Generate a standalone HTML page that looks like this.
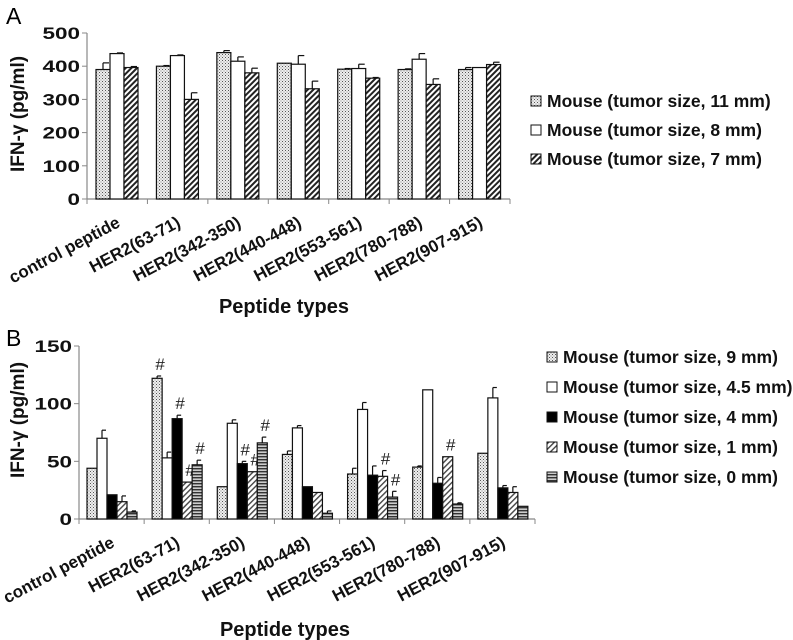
<!DOCTYPE html>
<html><head><meta charset="utf-8"><style>
html,body{margin:0;padding:0;background:#fff;}
svg{display:block;font-family:"Liberation Sans",sans-serif;}
</style></head><body>
<svg id="chart" width="793" height="640" viewBox="0 0 793 640">
<defs>
<pattern id="pDots" width="3" height="3" patternUnits="userSpaceOnUse"><rect width="3" height="3" fill="#eee"/><rect x="0" y="0" width="1" height="1" fill="#555"/><rect x="1.5" y="1.5" width="1" height="1" fill="#888"/></pattern>
<pattern id="pHatch" width="4" height="4" patternUnits="userSpaceOnUse" patternTransform="rotate(45)"><rect width="4" height="4" fill="#fff"/><rect width="2" height="4" fill="#222"/></pattern>
<pattern id="pHatchL" width="4" height="4" patternUnits="userSpaceOnUse" patternTransform="rotate(45)"><rect width="4" height="4" fill="#fff"/><rect width="1.4" height="4" fill="#444"/></pattern>
<pattern id="pHoriz" width="3" height="3" patternUnits="userSpaceOnUse"><rect width="3" height="3" fill="#ccc"/><rect width="3" height="1.4" fill="#333"/></pattern>
</defs>
<text x="6" y="24" font-size="23">A</text>
<text x="6" y="346" font-size="23">B</text>
</svg>
<script>
const categories=["control peptide","HER2(63-71)","HER2(342-350)","HER2(440-448)","HER2(553-561)","HER2(780-788)","HER2(907-915)"];
const seriesA=["Mouse (tumor size, 11 mm)","Mouse (tumor size, 8 mm)","Mouse (tumor size, 7 mm)"];
const valuesA11=[390,400,441,409,391,390,390];
const valuesA8=[438,432,415,406,393,421,396];
const valuesA7=[396,300,380,332,364,345,405];
const errA11=[20,2,6,0,2,2,6];
const errA8=[2,2,13,26,13,17,0];
const errA7=[3,20,14,23,2,17,7];
const ticksA=[0,100,200,300,400,500];
const seriesB=["Mouse (tumor size, 9 mm)","Mouse (tumor size, 4.5 mm)","Mouse (tumor size, 4 mm)","Mouse (tumor size, 1 mm)","Mouse (tumor size, 0 mm)"];
const valuesB9=[44,122,28,56,39,45,57];
const valuesB45=[70,53,83,79,95,112,105];
const valuesB4=[21,87,48,28,38,31,27];
const valuesB1=[15,32,41,23,37,54,23];
const valuesB0=[6,47,66,5,19,13,11];
const errB9=[0,2,0,3,5,1,0];
const errB45=[7,5,3,2,6,0,9];
const errB4=[0,3,2,0,8,5,2];
const errB1=[5,0,0,0,5,0,5];
const errB0=[1,4,5,2,5,1,0];
const hashB9=[0,1,0,0,0,0,0];
const hashB4=[0,1,1,0,0,0,0];
const hashB1=[0,1,1,0,1,1,0];
const hashB0=[0,1,1,0,1,0,0];
const ticksB=[0,50,100,150];

const svg=document.getElementById('chart');
const NS='http://www.w3.org/2000/svg';
function mk(tag,attrs,parent){const e=document.createElementNS(NS,tag);for(const k in attrs)e.setAttribute(k,attrs[k]);(parent||svg).appendChild(e);return e;}

function drawPanel(cfg){
  const g=mk('g',{});
  
  
  const y=v=>cfg.y0-(v/cfg.max)*(cfg.y0-cfg.yTop);
  const gw=(cfg.x1-cfg.x0)/categories.length;
  const xg=i=>cfg.x0+i*gw;
  const ya=mk('line',{x1:cfg.x0,y1:cfg.yTop,x2:cfg.x0,y2:cfg.y0,stroke:'#888','stroke-width':1.2},g);
  
  
  const xa=mk('line',{x1:cfg.x0,y1:cfg.y0,x2:cfg.x1,y2:cfg.y0,stroke:'#888','stroke-width':1.2},g);
  
  
  cfg.ticks.forEach(t=>{
    mk('line',{x1:cfg.x0-5,x2:cfg.x0,y1:y(t),y2:y(t),stroke:'#888'},g);
    const s=String(t);
    const tl=mk('text',{x:cfg.x0-7,y:y(t)+6,'text-anchor':'end','font-size':17,'font-weight':'bold',fill:'#111',textLength:s.length*12.5,lengthAdjust:'spacingAndGlyphs'},g);
    tl.textContent=s;
    
    
  });
  for(let i=0;i<=categories.length;i++) mk('line',{x1:xg(i),x2:xg(i),y1:cfg.y0,y2:cfg.y0+5,stroke:'#888'},g);
  categories.forEach((c,i)=>{
    const ax=xg(i)+gw/2+4, ay=cfg.y0+27;
    const t=mk('text',{x:ax,y:ay,'text-anchor':'end','font-size':17,'font-weight':'bold',fill:'#111',transform:`rotate(-28 ${ax} ${ay})`},g);
    t.textContent=c;
    
    
  });
  cfg.series.forEach((s,si)=>{
    s.vals.forEach((v,i)=>{
      const bx=xg(i)+cfg.off+si*cfg.step;
      const by=y(v);
      const e=s.err[i];
      if(e>0){
        mk('line',{x1:bx+cfg.bw/2,x2:bx+cfg.bw/2,y1:by,y2:y(v+e),stroke:'#111','stroke-width':1.2},g);
        mk('line',{x1:bx+cfg.bw/2,x2:bx+cfg.bw-1,y1:y(v+e),y2:y(v+e),stroke:'#111','stroke-width':1.2},g);
      }
      const r=mk('rect',{x:bx,y:by,width:cfg.bw,height:cfg.y0-by,fill:s.fill,stroke:'#111','stroke-width':1.2},g);
      
      
      if(s.hash&&s.hash[i]){
        const h=mk('text',{x:bx+cfg.bw/2+3,y:y(v+e)-6,'text-anchor':'middle','font-size':17,fill:'#222'},g);
        h.textContent='#';
        
        
      }
    });
  });
  const yt=mk('text',{x:cfg.ytX,y:cfg.ytY,'text-anchor':'middle','font-size':19,'font-weight':'bold',fill:'#111',transform:`rotate(-90 ${cfg.ytX} ${cfg.ytY})`},g);
  yt.textContent='IFN-γ (pg/ml)';
  
  
  const xt=mk('text',{x:cfg.xtX,y:cfg.xtY,'text-anchor':'middle','font-size':20,'font-weight':'bold',fill:'#111'},g);
  xt.textContent='Peptide types';
  
  
  cfg.series.forEach((s,si)=>{
    const ly=cfg.legY+si*cfg.legStep;
    const lg=mk('g',{},g);
    
    
    mk('rect',{x:cfg.legX,y:ly-5,width:10,height:10,fill:s.fill,stroke:'#111','stroke-width':1},lg);
    const lt=mk('text',{x:cfg.legX+16,y:ly+6,'font-size':17.5,'font-weight':'bold',fill:'#111'},lg);
    lt.textContent=s.name;
  });
}
drawPanel({name:'panel-a-chart',x0:87,x1:510,y0:199,yTop:33,max:500,ticks:ticksA,bw:14,off:9,step:14,
  ytX:24,ytY:114,xtX:284,xtY:313,legX:531,legY:101,legStep:29,
  series:[{name:seriesA[0],vals:valuesA11,err:errA11,fill:'url(#pDots)'},
          {name:seriesA[1],vals:valuesA8,err:errA8,fill:'#fff'},
          {name:seriesA[2],vals:valuesA7,err:errA7,fill:'url(#pHatch)'}]});
drawPanel({name:'panel-b-chart',x0:79,x1:535,y0:519,yTop:346,max:150,ticks:ticksB,bw:10,off:8,step:10,
  ytX:24,ytY:420,xtX:285,xtY:636,legX:547,legY:357,legStep:30,
  series:[{name:seriesB[0],vals:valuesB9,err:errB9,fill:'url(#pDots)',hash:hashB9},
          {name:seriesB[1],vals:valuesB45,err:errB45,fill:'#fff'},
          {name:seriesB[2],vals:valuesB4,err:errB4,fill:'#000',hash:hashB4},
          {name:seriesB[3],vals:valuesB1,err:errB1,fill:'url(#pHatchL)',hash:hashB1},
          {name:seriesB[4],vals:valuesB0,err:errB0,fill:'url(#pHoriz)',hash:hashB0}]});
</script>
</body></html>
